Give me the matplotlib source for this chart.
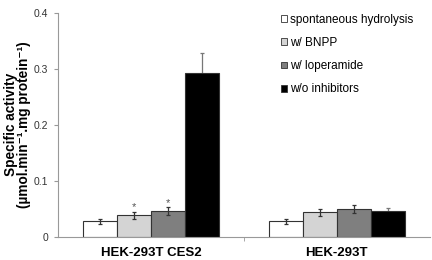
import matplotlib
matplotlib.use('Agg')
import matplotlib.pyplot as plt
from matplotlib.patches import Patch
import numpy as np

plt.rcParams['font.family'] = ['Liberation Sans', 'DejaVu Sans']

# data
cell_lines = ['HEK-293T CES2', 'HEK-293T']
conditions = ['spontaneous hydrolysis', 'w/ BNPP', 'w/ loperamide', 'w/o inhibitors']
activity = {
    'spontaneous hydrolysis': [0.028, 0.028],
    'w/ BNPP': [0.039, 0.044],
    'w/ loperamide': [0.046, 0.050],
    'w/o inhibitors': [0.292, 0.046],
}
errors = {
    'spontaneous hydrolysis': [0.004, 0.004],
    'w/ BNPP': [0.006, 0.006],
    'w/ loperamide': [0.007, 0.008],
    'w/o inhibitors': [0.036, 0.005],
}
# significance marks (condition, cell line index)
stars = [('w/ BNPP', 0), ('w/ loperamide', 0)]

colors = ['white', '#d4d4d4', '#7f7f7f', 'black']
err_colors = ['#333333', '#333333', '#333333', '#777777']

fig = plt.figure(figsize=(4.32, 2.6), dpi=100)
ax = fig.add_axes([0.134, 0.0885, 0.861, 0.8615])

x = np.arange(len(cell_lines))
w = 0.182
for i, cond in enumerate(conditions):
    pos = x + (i - 1.5) * w
    # black bars hide the lower half of their error bar
    ez = 1 if colors[i] == 'black' else 3
    ax.bar(pos, activity[cond], w, color=colors[i], edgecolor='#333333', linewidth=0.8,
           yerr=errors[cond], error_kw=dict(ecolor=err_colors[i], elinewidth=0.9, capsize=1.2,
                                            capthick=0.9, zorder=ez),
           label=cond, zorder=2)

for cond, j in stars:
    i = conditions.index(cond)
    ax.text(x[j] + (i - 1.5) * w, activity[cond][j] + errors[cond][j] + 0.008, '*',
            ha='center', va='center', fontsize=8, color='#555555')

ax.set_xlim(-0.5, 1.5)
ax.set_ylim(0, 0.4)
ax.set_yticks([0, 0.1, 0.2, 0.3, 0.4])
ax.set_yticklabels(['0', '0.1', '0.2', '0.3', '0.4'])
ax.set_xticks(x)
ax.set_xticklabels(cell_lines, fontsize=9.5, fontweight='bold')
ax.set_xticks([0.5], minor=True)
ax.tick_params(axis='x', which='major', length=0, pad=7)
ax.tick_params(axis='x', which='minor', length=3, color='#999999')
ax.tick_params(axis='y', length=3, color='#999999', labelsize=7.5, labelcolor='#333333', pad=4)
for s in ['top', 'right']:
    ax.spines[s].set_visible(False)
for s in ['left', 'bottom']:
    ax.spines[s].set_color('#999999')
    ax.spines[s].set_linewidth(0.8)

fig.text(0.041, 0.52, 'Specific activity\n(µmol.min\u207b\u00b9.mg protein\u207b\u00b9)',
         rotation=90, ha='center', va='center', fontsize=9.8, fontweight='bold',
         multialignment='center', linespacing=0.95)

handles = [Patch(facecolor=c, edgecolor='#333333', linewidth=0.6) for c in colors]
fig.legend(handles, conditions, loc='upper left', bbox_to_anchor=(0.651, 0.947),
           frameon=False, fontsize=8.5, handlelength=0.5, handleheight=0.5,
           handletextpad=0.25, labelspacing=0.95, borderpad=0, borderaxespad=0)

fig.savefig('out.png', dpi=100)
